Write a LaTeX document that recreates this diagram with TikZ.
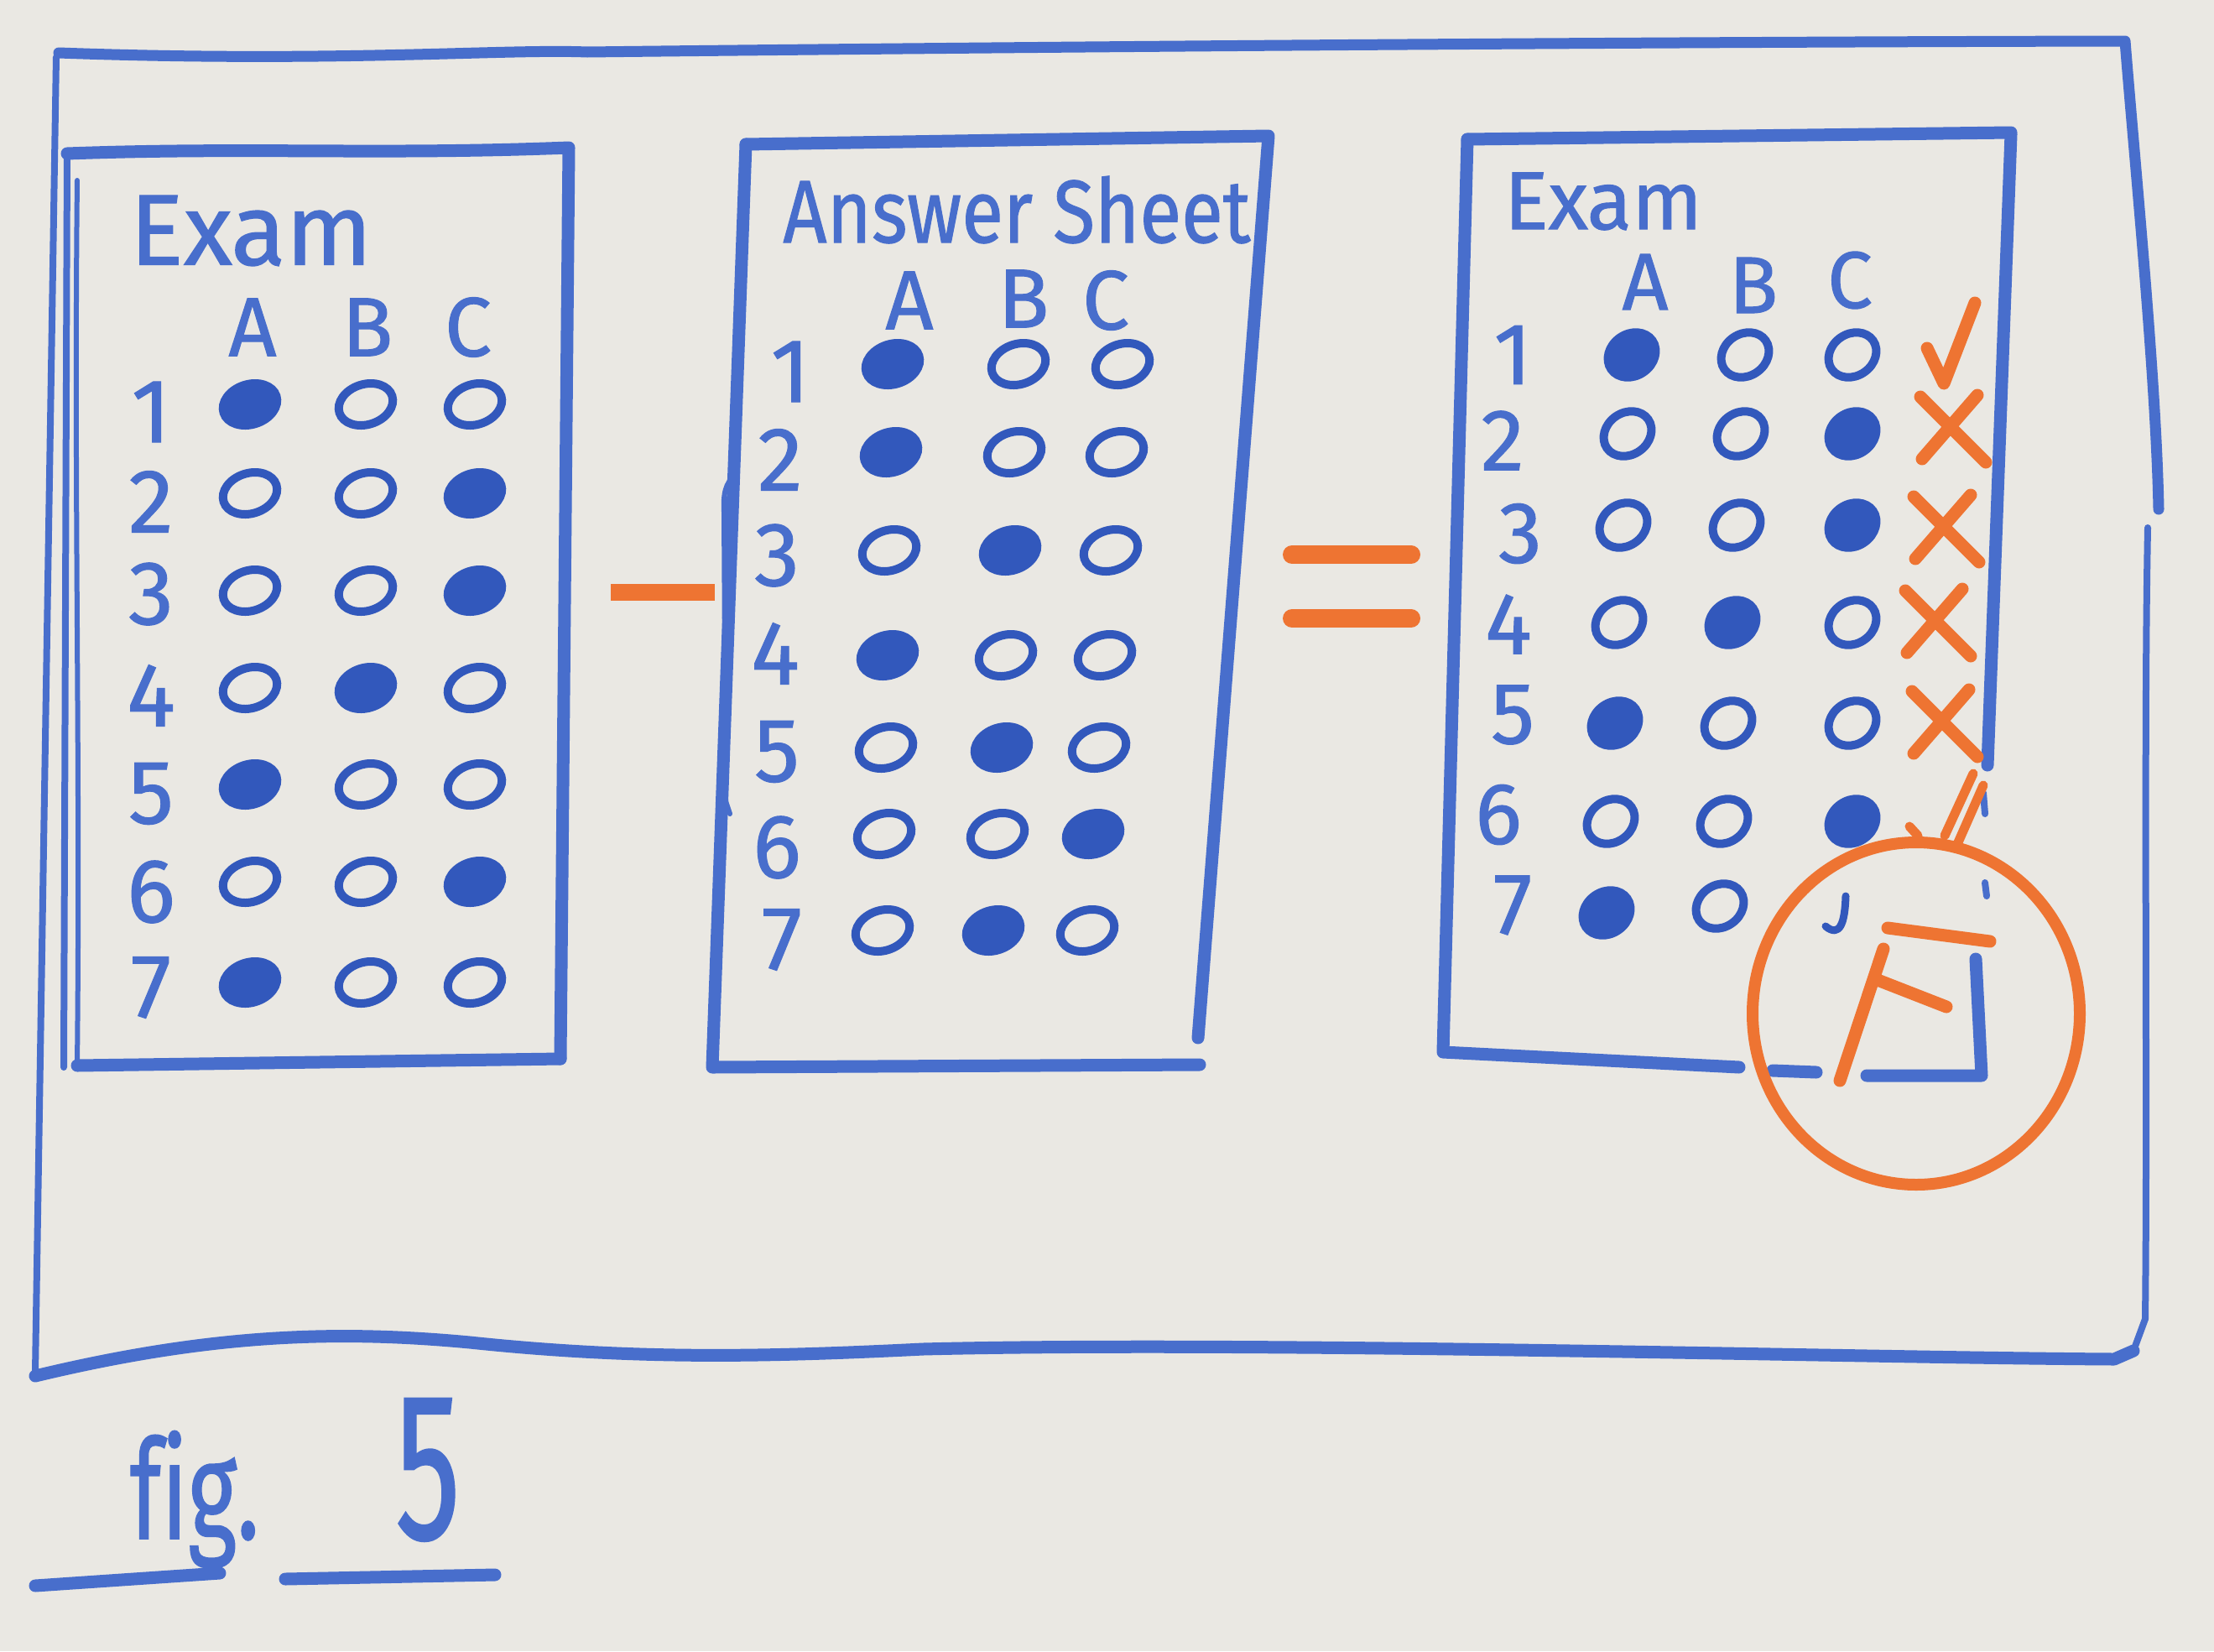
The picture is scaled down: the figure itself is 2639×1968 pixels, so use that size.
\documentclass[tikz,border=0pt]{standalone}
\usepackage{fontspec}
\setmainfont[FakeBold=1]{Fira Sans}
\newfontfamily\capfont[Ligatures=NoCommon,FakeBold=1]{Fira Sans}
\usepackage{graphicx}
\usetikzlibrary{shapes.geometric}
\definecolor{board}{RGB}{234,232,227}
\definecolor{marker}{RGB}{72,110,204}
\definecolor{ink}{RGB}{50,88,188}
\definecolor{orangepen}{RGB}{238,116,50}
\newcommand\handsize[1]{\fontsize{#1}{#1}\selectfont}
\begin{document}
\begin{tikzpicture}[x=1pt,y=-1pt,
  pen/.style={draw=marker,line width=15pt,line cap=round,line join=round},
  thinpen/.style={draw=marker,line width=8pt,line cap=round,line join=round},
  opn/.style={draw=orangepen,line width=15pt,line cap=round,line join=round},
  txt/.style={text=marker,inner sep=0pt},
  bubble/.style={ellipse,draw=ink,line width=10pt,minimum width=66pt,minimum height=48pt,inner sep=0pt,rotate=18},
  obubble/.style={ellipse,draw=ink,line width=10pt,minimum width=60pt,minimum height=50pt,inner sep=0pt,rotate=35}]

% whiteboard
\path[use as bounding box,fill=board] (0,0) rectangle (2639,1968);

% outer frame
\draw[pen,line width=13pt] (70,63) .. controls (400,75) and (600,58) .. (700,62)
  .. controls (1300,55) and (2000,50) .. (2533,49)
  .. controls (2545,200) and (2570,450) .. (2573,607);
\draw[thinpen] (2560,629) .. controls (2555,900) and (2560,1300) .. (2557,1572) -- (2543,1610);
\draw[thinpen] (67,68) -- (42,1636);
\draw[pen] (42,1640) .. controls (250,1590) and (400,1585) .. (560,1600)
  .. controls (750,1620) and (900,1618) .. (1100,1608)
  .. controls (1500,1598) and (2200,1618) .. (2520,1620) -- (2543,1610);

% panel one: exam
\coordinate (p1tl) at (80,183);
\coordinate (p1tr) at (678,176);
\coordinate (p1br) at (668,1262);
\coordinate (p1bl) at (92,1270);
\draw[pen] (p1tl) .. controls (300,175) and (450,185) .. (p1tr) -- (p1br);
\draw[pen] (p1bl) -- (p1br);
\draw[thinpen] (p1tl) -- (76,1272);
\draw[thinpen,line width=6pt] (92,215) .. controls (88,600) and (96,900) .. (p1bl);
\node[txt,font=\handsize{120}] (exam1) at (299,275) {Exam};
\node[txt,font=\handsize{100}] (h1a) at (301,390) {A};
\node[txt,font=\handsize{100}] (h1b) at (438,390) {B};
\node[txt,font=\handsize{100}] (h1c) at (558,390) {C};
\foreach \r/\ly/\by/\f in {1/491/482/1,2/598/588/3,3/708/704/3,4/829/820/2,5/946/935/1,6/1063/1051/3,7/1177/1171/1}{
  \node[txt,font=\handsize{108}] (ea-\r) at (180,\ly) {\r};
  \foreach \c/\x in {1/298,2/436,3/566}{
    \ifnum\c=\f\relax\def\fc{ink}\else\def\fc{none}\fi
    \node[bubble,fill=\fc] (ea-\r-\c) at (\x,\by) {};
  }
}

% minus sign
\coordinate (minusL) at (728,706);
\coordinate (minusR) at (852,706);
\draw[opn,line width=20pt,line cap=butt] (minusL) -- (minusR);

% panel two: answer sheet
\coordinate (p2tl) at (889,172);
\coordinate (p2tr) at (1512,162);
\coordinate (p2rb) at (1428,1237);
\coordinate (p2bl) at (849,1272);
\coordinate (p2br) at (1430,1269);
\draw[pen] (p2tl) -- (p2tr) -- (p2rb);
\draw[pen] (p2tl) -- (p2bl) -- (p2br);
\draw[thinpen,line width=6pt] (877,566) .. controls (864,575) and (862,590) .. (863,610)
  -- (865,955) -- (870,970);
\node[txt,font=\handsize{106}] (ans) at (1212,250) {\scalebox{0.86}[1]{Answer Sheet}};
\node[txt,font=\handsize{100}] (h2a) at (1084,358) {A};
\node[txt,font=\handsize{100}] (h2b) at (1220,356) {B};
\node[txt,font=\handsize{100}] (h2c) at (1318,358) {C};
\foreach \r/\lx/\ly/\by/\f in {1/942/443/434/1,2/930/548/539/1,3/926/662/656/2,4/924/779/781/1,5/926/896/891/2,6/926/1010/994/3,7/932/1120/1109/2}{
  \node[txt,font=\handsize{108}] (as-\r) at (\lx,\ly) {\r};
  \foreach \c/\x/\s in {1/1064/2,2/1214/5,3/1338/7}{
    \ifnum\c=\f\relax\def\fc{ink}\else\def\fc{none}\fi
    \pgfmathsetmacro\xx{\x-(\r-1)*\s}
    \node[bubble,fill=\fc] (as-\r-\c) at (\xx,\by) {};
  }
}

% equals sign
\coordinate (eqAL) at (1540,661);
\coordinate (eqAR) at (1682,661);
\coordinate (eqBL) at (1540,737);
\coordinate (eqBR) at (1682,737);
\draw[opn,line width=22pt] (eqAL) -- (eqAR);
\draw[opn,line width=22pt] (eqBL) -- (eqBR);

% panel three: graded exam
\coordinate (p3tl) at (1749,166);
\coordinate (p3tr) at (2397,158);
\coordinate (p3rm) at (2369,912);
\coordinate (p3bl) at (1720,1254);
\coordinate (p3bm) at (2073,1272);
\draw[pen] (p3tl) -- (p3tr);
\draw[pen] (2397,160) -- (p3rm);
\draw[pen] (p3tl) -- (p3bl) -- (p3bm);
\draw[pen] (2113,1276) -- (2165,1278);
\draw[pen] (2225,1282) -- (2362,1282) -- (2355,1143);
\draw[thinpen] (2364,945) -- (2366,970);
\draw[thinpen] (2366,1052) -- (2368,1068);
\node[txt,font=\handsize{98}] (exam3) at (1911,240) {Exam};
\node[txt,font=\handsize{96}] (h3a) at (1961,336) {A};
\node[txt,font=\handsize{96}] (h3b) at (2090,340) {B};
\node[txt,font=\handsize{96}] (h3c) at (2205,334) {C};
\foreach \r/\lx/\ly/\by/\f in {1/1803/423/423/1,2/1791/525/517/3,3/1812/636/626/3,4/1798/744/742/2,5/1803/852/862/1,6/1786/971/979/3}{
  \node[txt,font=\handsize{104}] (eb-\r) at (\lx,\ly) {\r};
  \foreach \c/\x/\s in {1/1945/5,2/2080/5,3/2208/0}{
    \ifnum\c=\f\relax\def\fc{ink}\else\def\fc{none}\fi
    \pgfmathsetmacro\xx{\x-(\r-1)*\s}
    \node[obubble,fill=\fc] (eb-\r-\c) at (\xx,\by) {};
  }
}
\node[txt,font=\handsize{104}] (eb-7) at (1803,1079) {7};
\node[obubble,fill=ink] (eb-7-1) at (1915,1088) {};
\node[obubble] (eb-7-2) at (2050,1080) {};
\draw[thinpen,draw=ink,line width=9pt] (2200,1068) .. controls (2199,1100) and (2193,1118) .. (2176,1104);

% grading marks
\draw[opn] (2297,415) -- (2317,457) -- (2354,361);
\foreach \r/\x/\y in {2/2327/513,3/2319/632,4/2309/744,5/2317/864}{
  \coordinate (xa-\r) at (\x-38,\y-40);
  \coordinate (xb-\r) at (\x+40,\y+38);
  \coordinate (xc-\r) at (\x+30,\y-42);
  \coordinate (xd-\r) at (\x-36,\y+34);
  \draw[opn] (xa-\r) -- (xb-\r);
  \draw[opn] (xc-\r) -- (xd-\r);
}
\draw[opn,line width=11pt] (2276,985) -- (2286,996);
\draw[opn,line width=11pt] (2318,996) -- (2352,922);
\draw[opn,line width=11pt] (2334,1004) -- (2364,936);

% final grade
\node[ellipse,draw=orangepen,line width=14pt,minimum width=390pt,minimum height=408pt,inner sep=0pt] (grade) at (2284,1208) {};
\draw[opn] (2245,1131) -- (2193,1288);
\draw[opn] (2250,1106) -- (2372,1122);
\draw[opn] (2238,1168) -- (2320,1200);

% caption
\node[txt,font=\capfont\handsize{165},anchor=base] (figlabel) at (232,1834) {\scalebox{0.68}[1]{fig.}};
\node[txt,font=\handsize{250},anchor=base] (fignum) at (510,1834) {\scalebox{0.62}[1]{5}};
\coordinate (ulA) at (42,1890);
\coordinate (ulB) at (262,1875);
\coordinate (ulC) at (340,1882);
\coordinate (ulD) at (590,1877);
\draw[pen] (ulA) -- (ulB);
\draw[pen] (ulC) -- (ulD);
\end{tikzpicture}
\end{document}
